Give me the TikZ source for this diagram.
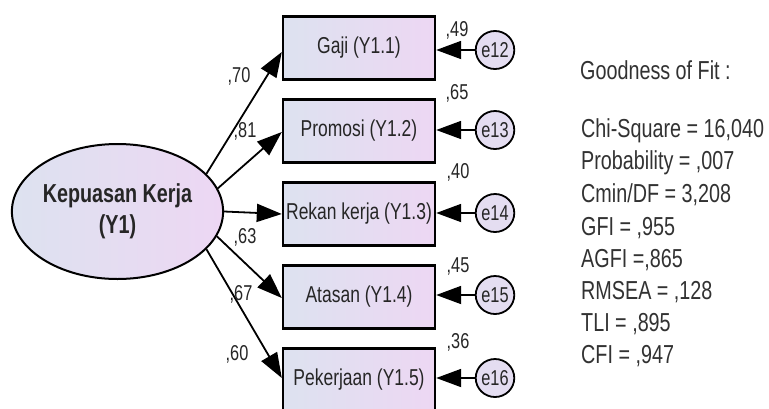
\documentclass[tikz,border=0pt]{standalone}
\usepackage{fontspec}
\setmainfont{Liberation Sans}[FakeStretch=0.76]
\usetikzlibrary{arrows.meta,shapes.geometric}
\definecolor{fillL}{RGB}{221,226,240}
\definecolor{fillR}{RGB}{237,215,243}
\definecolor{errfill}{RGB}{228,221,241}
\definecolor{ink}{RGB}{38,38,38}
\definecolor{statink}{RGB}{50,50,50}

\begin{document}
\begin{tikzpicture}[x=1pt,y=-1pt,
  obs/.style={draw=black,line width=2.4pt,minimum width=152pt,minimum height=63pt,
    inner sep=0pt,left color=fillL,right color=fillR,
    font=\fontsize{23}{26}\selectfont,text=ink},
  latent/.style={ellipse,draw=black,line width=2pt,minimum width=207pt,minimum height=135pt,
    inner sep=0pt,left color=fillL,right color=fillR,align=center,
    font=\bfseries\fontsize{26}{31}\selectfont,text=ink},
  errc/.style={ellipse,draw=black,line width=1.8pt,minimum width=33pt,minimum height=38pt,
    inner sep=0pt,fill=errfill,font=\fontsize{21.5}{23}\selectfont,text=ink},
  path/.style={line width=1.8pt,-{Triangle[length=25pt,width=18pt]}},
  coef/.style={font=\fontsize{21.5}{23}\selectfont,text=ink,inner sep=0pt},
  stat/.style={anchor=west,inner sep=0pt,font=\fontsize{26}{30}\selectfont,text=statink}]
  \clip (0,0) rectangle (769,408);
  \fill[white] (0,0) rectangle (769,408);

  % latent factor
  \node[latent] (Y1) at (117.5,211.5) {Kepuasan Kerja\\(Y1)};

  % indicators
  \node[obs] (b1) at (359,48)  {Gaji (Y1.1)};
  \node[obs] (b2) at (359,131) {Promosi (Y1.2)};
  \node[obs] (b3) at (359,214) {Rekan kerja (Y1.3)};
  \node[obs] (b4) at (359,297) {Atasan (Y1.4)};
  \node[obs] (b5) at (359,380) {Pekerjaan (Y1.5)};

  % error terms
  \node[errc] (e12) at (495,50)  {e12};
  \node[errc] (e13) at (495,130) {e13};
  \node[errc] (e14) at (495,213) {e14};
  \node[errc] (e15) at (495,295) {e15};
  \node[errc] (e16) at (495,378) {e16};

  % loadings
  \draw[path] (Y1.23)  -- ([yshift=-4pt]b1.west);
  \draw[path] (Y1.13)  -- ([yshift=-1pt]b2.west);
  \draw[path] (Y1.0)   -- (b3.west);
  \draw[path] (Y1.-14) -- ([yshift=-1pt]b4.west);
  \draw[path] (Y1.-23) -- ([yshift=2pt]b5.west);

  \node[coef] (c1) at (239,76)  {,70};
  \node[coef] (c2) at (245,131) {,81};
  \node[coef] (c3) at (245,237) {,63};
  \node[coef] (c4) at (241,294) {,67};
  \node[coef] (c5) at (237,354) {,60};

  % error paths
  \draw[path] (e12) -- (b1.east |- e12);
  \draw[path] (e13) -- (b2.east |- e13);
  \draw[path] (e14) -- (b3.east |- e14);
  \draw[path] (e15) -- (b4.east |- e15);
  \draw[path] (e16) -- (b5.east |- e16);

  \node[coef] (r1) at (457,30)  {,49};
  \node[coef] (r2) at (457,93)  {,65};
  \node[coef] (r3) at (458,172) {,40};
  \node[coef] (r4) at (458,266) {,45};
  \node[coef] (r5) at (458,342) {,36};

  % fit statistics
  \node[stat] (gof) at (580,70) {Goodness of Fit :};
  \node[stat] (s1) at (581,131) {Chi-Square = 16,040};
  \node[stat] (s2) at (581,163) {Probability = ,007};
  \node[stat] (s3) at (581,195) {Cmin/DF = 3,208};
  \node[stat] (s4) at (581,228) {GFI = ,955};
  \node[stat] (s5) at (581,260) {AGFI =,865};
  \node[stat] (s6) at (581,292) {RMSEA = ,128};
  \node[stat] (s7) at (581,324) {TLI = ,895};
  \node[stat] (s8) at (581,356) {CFI = ,947};
\end{tikzpicture}
\end{document}
